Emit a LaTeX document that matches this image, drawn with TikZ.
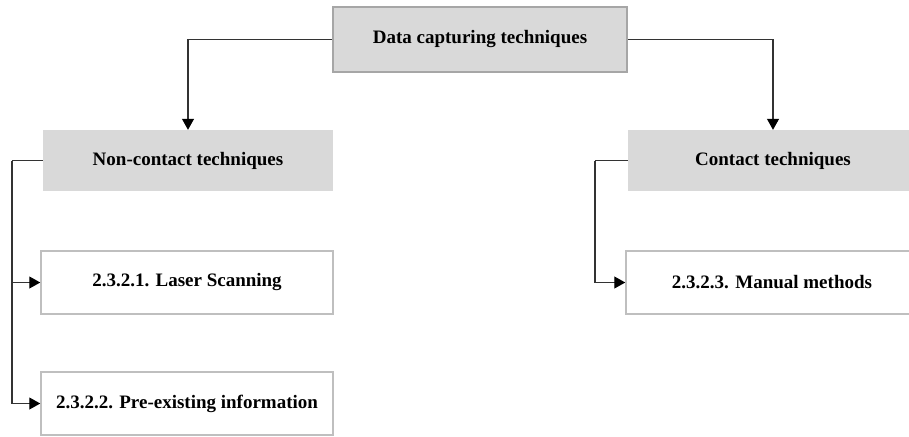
\documentclass[tikz,border=0pt]{standalone}
\usepackage{fontspec}
\setmainfont{Liberation Serif}
\usetikzlibrary{arrows.meta}
\definecolor{boxgray}{HTML}{D9D9D9}
\definecolor{edgegray}{HTML}{A6A6A6}
\definecolor{framegray}{HTML}{BFBFBF}
\definecolor{linegray}{HTML}{333333}
\tikzset{
  label text/.style={font=\fontsize{19}{22}\selectfont\bfseries, text=black, inner sep=0pt},
  rootbox/.style={label text, rectangle, fill=boxgray, draw=edgegray, line width=2.5pt,
    minimum width=294pt, minimum height=65pt},
  groupbox/.style={label text, rectangle, fill=boxgray,
    minimum width=290pt, minimum height=61pt},
  leafbox/.style={label text, rectangle, fill=white, draw=framegray, line width=1.5pt,
    minimum width=292pt, minimum height=63pt},
  link/.style={draw=linegray, line width=1.1pt},
  arr/.style={link, -{Triangle[length=11pt,width=12pt,fill=black,color=black]}},
}
\begin{document}
\begin{tikzpicture}[x=1pt,y=-1pt]
  \useasboundingbox (0,0) rectangle (909,436);
  \clip (0,0) rectangle (909,436);

  % boxes
  \node[rootbox]  (root)    at (480,39.5)  {Data capturing techniques};
  \node[groupbox] (noncont) at (188,160.5) {Non-contact techniques};
  \node[groupbox] (cont)    at (773,160.5) {Contact techniques};
  \node[leafbox]  (laser)   at (187,282.5) {2.3.2.1. Laser Scanning};
  \node[leafbox]  (preex)   at (187,403.5) {2.3.2.2. Pre-existing information};
  \node[leafbox]  (manual)  at (772,282.5) {2.3.2.3. Manual methods};

  % rails on the left of each group
  \coordinate (leftrail)  at (12,0);
  \coordinate (rightrail) at (595,0);

  % root to groups
  \draw[arr] (root.west) -| (noncont.north);
  \draw[arr] (root.east) -| (cont.north);

  % non-contact group to its items
  \draw[link] (noncont.west) -- (noncont.west -| leftrail);
  \draw[arr] (noncont.west -| leftrail) |- (laser.west);
  \draw[arr] (noncont.west -| leftrail) |- (preex.west);

  % contact group to its item
  \draw[link] (cont.west) -- (cont.west -| rightrail);
  \draw[arr] (cont.west -| rightrail) |- (manual.west);
\end{tikzpicture}
\end{document}
